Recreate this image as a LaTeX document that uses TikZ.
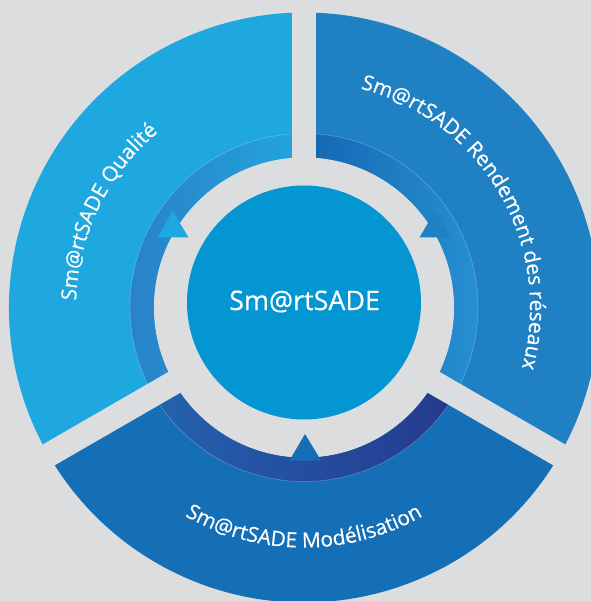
\documentclass[tikz,border=0pt]{standalone}
\usepackage{fontspec}
\setmainfont[FakeBold=0.4,AutoFakeBold=0.4]{Open Sans}
\usetikzlibrary{decorations.text}
\definecolor{bggray}{HTML}{DCDDDF}
\definecolor{qualite}{HTML}{1FA8DF}
\definecolor{rendement}{HTML}{1F80C4}
\definecolor{modelisation}{HTML}{156FB7}
\definecolor{coreblue}{HTML}{0396D2}
\definecolor{qringl}{HTML}{2A7DC4}
\definecolor{qringr}{HTML}{22A5DE}
\definecolor{rringl}{HTML}{1566B3}
\definecolor{rringr}{HTML}{2690D1}
\definecolor{mringl}{HTML}{2462AE}
\definecolor{mringr}{HTML}{243A8E}
\newcommand{\secfont}{\fontsize{21}{21}\selectfont\bfseries}

\begin{document}
\begin{tikzpicture}[x=1bp,y=1bp]
		\tikzstyle{gap} = [draw=bggray,line width=24bp]
		\tikzstyle{rim} = [draw=white,opacity=0.3,line width=0.5bp]
		\useasboundingbox (-304,-293.5) rectangle (287,307.5);
		\clip (-304,-293.5) rectangle (287,307.5);
		\fill[bggray] (-304,-293.5) rectangle (287,307.5);

		\fill[qualite] (90:150) arc[start angle=90,end angle=210,radius=150] -- (210:295) arc[start angle=210,end angle=90,radius=295] -- cycle;
		\fill[rendement] (-30:150) arc[start angle=-30,end angle=90,radius=150] -- (90:295) arc[start angle=90,end angle=-30,radius=295] -- cycle;
		\fill[modelisation] (210:150) arc[start angle=210,end angle=330,radius=150] -- (330:295) arc[start angle=330,end angle=210,radius=295] -- cycle;

		\shade[left color=qringl,right color=qringr] (90:150) arc[start angle=90,end angle=210,radius=150] -- (210:174) arc[start angle=210,end angle=90,radius=174] -- cycle;
		\shade[left color=rringl,right color=rringr] (-30:150) arc[start angle=-30,end angle=90,radius=150] -- (90:174) arc[start angle=90,end angle=-30,radius=174] -- cycle;
		\shade[left color=mringl,right color=mringr] (210:150) arc[start angle=210,end angle=330,radius=150] -- (330:174) arc[start angle=330,end angle=210,radius=174] -- cycle;
		\draw[rim] (0,0) circle[radius=174];

		\draw[gap] (0,0) -- (90:330);
		\draw[gap] (0,0) -- (210:330);
		\draw[gap] (0,0) -- (330:330);
		\fill[bggray] (0,0) circle[radius=150];
		\fill[coreblue] (0,5) circle[radius=117];

		\fill[qualite] (-131.4,96.5) -- (-146.5,70) -- (-115.5,70) -- cycle;
		\fill[rendement] (131,96.5) -- (115.5,70) -- (147,70) -- cycle;
		\fill[modelisation] (1,-126.5) -- (-14.5,-153) -- (17,-153) -- cycle;

		\node[text=white,font=\fontsize{27}{27}\selectfont\bfseries] (core) at (0.6,6) {Sm@rtSADE};

		\path[decorate,decoration={text along path,text align=center,text color=white,text={|\secfont|Sm@rtSADE Qualité}}] (214:228) arc[start angle=214,end angle=94,radius=228];
		\path[decorate,decoration={text along path,text align=center,text color=white,text={|\secfont|Sm@rtSADE Rendement des réseaux}}] (100:226) arc[start angle=100,end angle=-40,radius=226];
		\path[decorate,decoration={text along path,text align=center,text color=white,text={|\secfont|Sm@rtSADE Modélisation}}] (200:240) arc[start angle=200,end angle=340,radius=240];
	\end{tikzpicture}
\end{document}
